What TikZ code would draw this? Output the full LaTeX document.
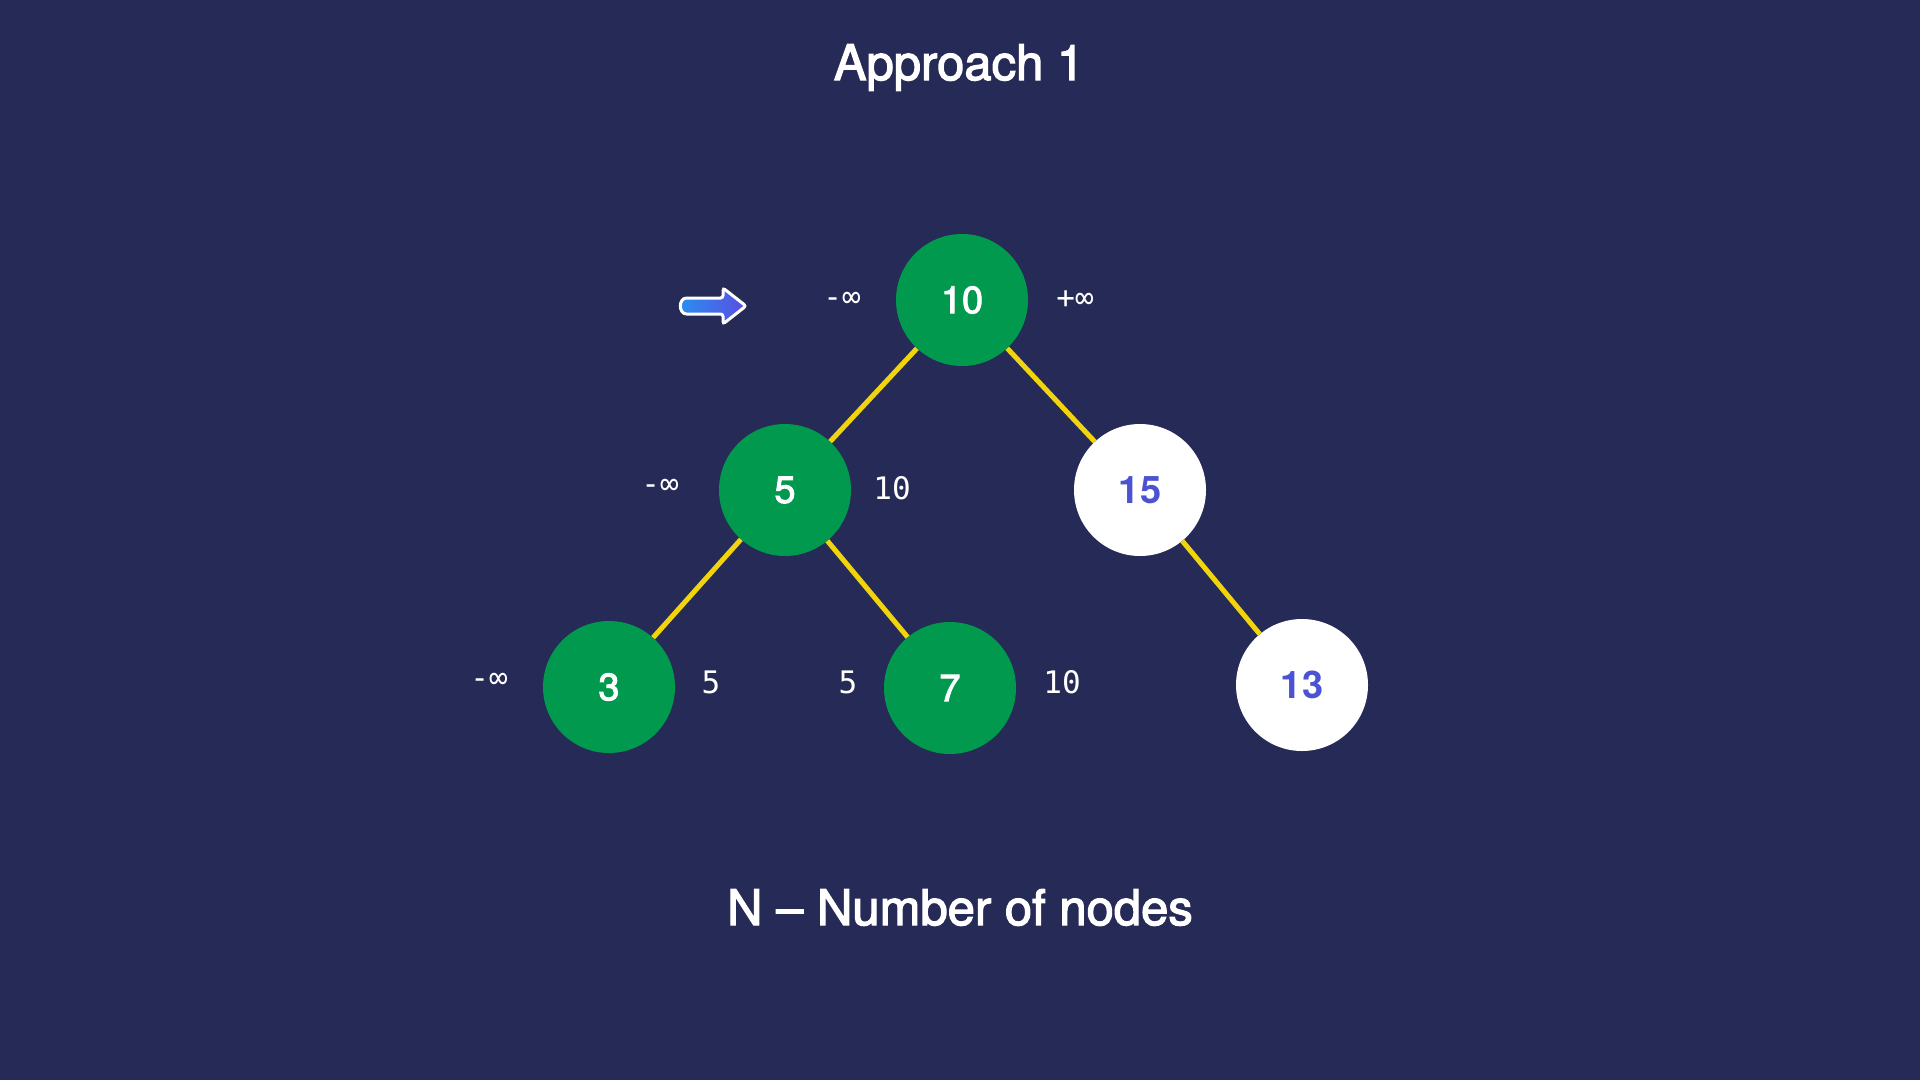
\documentclass[tikz,border=0pt]{standalone}
\usepackage{fontspec}
\setmainfont{TeX Gyre Heros}
\newfontfamily\medfont{TeX Gyre Heros}[FakeBold=2.5]
\newfontfamily\headfont{TeX Gyre Heros}[FakeBold=2.5]
\newfontfamily\labelmono{DejaVu Sans Mono}
\definecolor{bgc}{HTML}{262A56}
\definecolor{greenc}{HTML}{00994D}
\definecolor{yellowc}{HTML}{F2D40C}
\definecolor{bluetxt}{HTML}{4B53D3}
\definecolor{arrowL}{HTML}{2A8EF2}
\definecolor{arrowR}{HTML}{5A4EE0}
\tikzset{
  treenode/.style={circle, minimum size=132pt, inner sep=0pt, font=\medfont\fontsize{38}{44}\selectfont},
  visited/.style={treenode, fill=greenc, text=white},
  unvisited/.style={treenode, fill=white, text=bluetxt, font=\fontsize{38}{44}\selectfont\bfseries},
  edge/.style={draw=yellowc, line width=5pt},
  rangelbl/.style={text=white, inner sep=0pt, font=\labelmono\fontsize{31}{36}\selectfont},
  headline/.style={text=white, inner sep=0pt, anchor=base, font=\headfont\fontsize{49}{58}\selectfont},
  pointer/.style={draw=white, line width=3pt, left color=arrowL, right color=arrowR, rounded corners=2.5pt}
}
\begin{document}
\begin{tikzpicture}[x=1pt,y=-1pt]
\useasboundingbox (0,0) rectangle (1920,1080);
\fill[bgc] (0,0) rectangle (1920,1080);

% title
\node[headline] (title) at (959,80) {Approach 1};

% nodes
\node[visited] (n10) at (962,300) {10};
\node[visited] (n5) at (785,490) {5};
\node[unvisited] (n15) at (1140,490) {15};
\node[visited] (n3) at (609,687) {3};
\node[visited] (n7) at (950,688) {7};
\node[unvisited] (n13) at (1302,685) {13};

% edges
\draw[edge] (n10) -- (n5);
\draw[edge] (n10) -- (n15);
\draw[edge] (n5) -- (n3);
\draw[edge] (n5) -- (n7);
\draw[edge] (n15) -- (n13);

% range labels
\node[rangelbl] (l10a) at (842,300) {-∞};
\node[rangelbl] (l10b) at (1075,300) {+∞};
\node[rangelbl] (l5a) at (660,487) {-∞};
\node[rangelbl] (l5b) at (892,488) {10};
\node[rangelbl] (l3a) at (489,681) {-∞};
\node[rangelbl] (l3b) at (711,682) {5};
\node[rangelbl] (l7a) at (848,682) {5};
\node[rangelbl] (l7b) at (1062,682) {10};

% pointer arrow
\draw[pointer] (705,298) -- (723,298) -- (723,288) -- (746,306) -- (723,324) -- (723,314) -- (689,314)
  .. controls (678.3,314) and (678.3,298) .. (689,298) -- cycle;

% footer
\node[headline] (footer) at (960,925) {N – Number of nodes};
\end{tikzpicture}
\end{document}
